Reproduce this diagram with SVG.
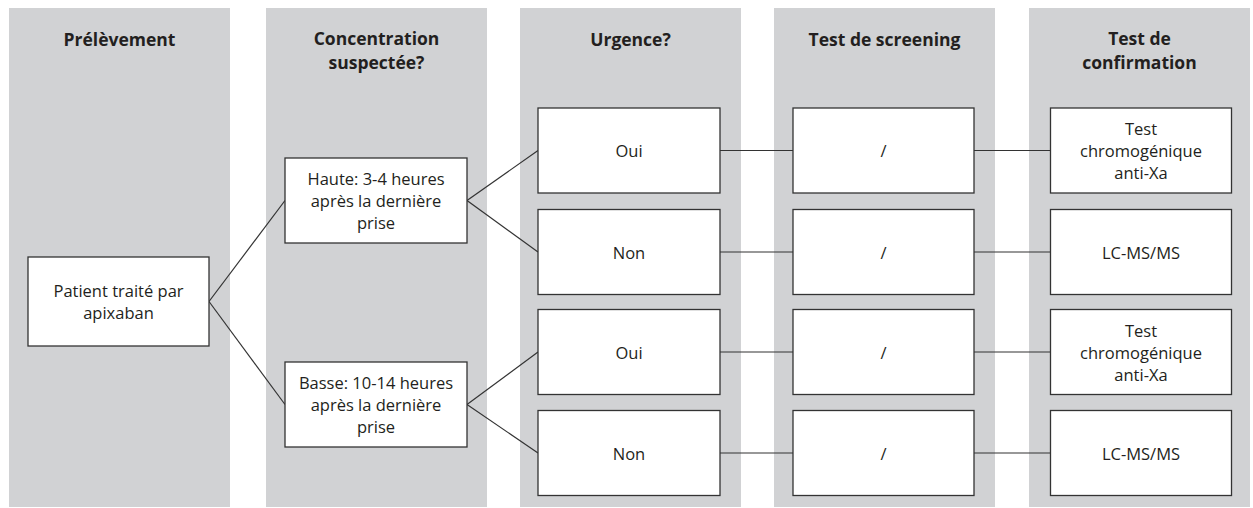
<svg xmlns="http://www.w3.org/2000/svg" width="1253" height="508" viewBox="0 0 1253 508">
  <style>
    .col { fill: #d1d2d4; }
    .box { fill: #ffffff; stroke: #333333; stroke-width: 1.3; }
    .hdr { font-family: "Open Sans", Lato, sans-serif; font-weight: bold; font-size: 17.5px; fill: #231f20; text-anchor: middle; }
    .txt { font-family: "Open Sans", Lato, sans-serif; font-size: 16.5px; fill: #231f20; text-anchor: middle; }
    .con { stroke: #333333; stroke-width: 1.2; fill: none; }
  </style>
  <rect width="1253" height="508" fill="#ffffff"/>
  <g id="columns">
    <rect class="col" x="9" y="8" width="221" height="499"/>
    <rect class="col" x="266" y="8" width="221" height="499"/>
    <rect class="col" x="520" y="8" width="221" height="499"/>
    <rect class="col" x="774" y="8" width="221" height="499"/>
    <rect class="col" x="1029" y="8" width="221" height="499"/>
  </g>
  <g id="headers">
    <text class="hdr" x="119.5" y="46">Prélèvement</text>
    <text class="hdr" x="376.5" y="45">Concentration</text>
    <text class="hdr" x="376.5" y="69">suspectée?</text>
    <text class="hdr" x="630.5" y="46">Urgence?</text>
    <text class="hdr" x="884.5" y="46">Test de screening</text>
    <text class="hdr" x="1139.5" y="45">Test de</text>
    <text class="hdr" x="1139.5" y="69">confirmation</text>
  </g>
  <g id="connectors">
    <line class="con" x1="209" y1="301.5" x2="285" y2="200.5"/>
    <line class="con" x1="209" y1="301.5" x2="285" y2="404.5"/>
    <line class="con" x1="467" y1="200.5" x2="538" y2="150.5"/>
    <line class="con" x1="467" y1="200.5" x2="538" y2="252"/>
    <line class="con" x1="467" y1="404.5" x2="538" y2="352"/>
    <line class="con" x1="467" y1="404.5" x2="538" y2="453"/>
    <line class="con" x1="720" y1="150.5" x2="793" y2="150.5"/>
    <line class="con" x1="720" y1="252" x2="793" y2="252"/>
    <line class="con" x1="720" y1="352" x2="793" y2="352"/>
    <line class="con" x1="720" y1="453" x2="793" y2="453"/>
    <line class="con" x1="974" y1="150.5" x2="1050.5" y2="150.5"/>
    <line class="con" x1="974" y1="252" x2="1050.5" y2="252"/>
    <line class="con" x1="974" y1="352" x2="1050.5" y2="352"/>
    <line class="con" x1="974" y1="453" x2="1050.5" y2="453"/>
  </g>
  <g id="patient">
    <rect class="box" x="28" y="257" width="181" height="89"/>
    <text class="txt" x="118.5" y="296.5">Patient traité par</text>
    <text class="txt" x="118.5" y="318.5">apixaban</text>
  </g>
  <g id="haute">
    <rect class="box" x="285" y="158" width="182" height="85"/>
    <text class="txt" x="376" y="185">Haute: 3-4 heures</text>
    <text class="txt" x="376" y="207">après la dernière</text>
    <text class="txt" x="376" y="229">prise</text>
  </g>
  <g id="basse">
    <rect class="box" x="285" y="362" width="182" height="85"/>
    <text class="txt" x="376" y="389">Basse: 10-14 heures</text>
    <text class="txt" x="376" y="411">après la dernière</text>
    <text class="txt" x="376" y="433">prise</text>
  </g>
  <g id="oui1">
    <rect class="box" x="538" y="108" width="182" height="85"/>
    <text class="txt" x="629" y="157">Oui</text>
  </g>
  <g id="non1">
    <rect class="box" x="538" y="209.5" width="182" height="85"/>
    <text class="txt" x="629" y="258.5">Non</text>
  </g>
  <g id="oui2">
    <rect class="box" x="538" y="309.5" width="182" height="85"/>
    <text class="txt" x="629" y="358.5">Oui</text>
  </g>
  <g id="non2">
    <rect class="box" x="538" y="410.5" width="182" height="85"/>
    <text class="txt" x="629" y="459.5">Non</text>
  </g>
  <g id="screen1">
    <rect class="box" x="793" y="108" width="181" height="85"/>
    <text class="txt" x="883.5" y="157">/</text>
  </g>
  <g id="screen2">
    <rect class="box" x="793" y="209.5" width="181" height="85"/>
    <text class="txt" x="883.5" y="258.5">/</text>
  </g>
  <g id="screen3">
    <rect class="box" x="793" y="309.5" width="181" height="85"/>
    <text class="txt" x="883.5" y="358.5">/</text>
  </g>
  <g id="screen4">
    <rect class="box" x="793" y="410.5" width="181" height="85"/>
    <text class="txt" x="883.5" y="459.5">/</text>
  </g>
  <g id="confirm1">
    <rect class="box" x="1050.5" y="108" width="181" height="85"/>
    <text class="txt" x="1141" y="135">Test</text>
    <text class="txt" x="1141" y="157">chromogénique</text>
    <text class="txt" x="1141" y="179">anti-Xa</text>
  </g>
  <g id="confirm2">
    <rect class="box" x="1050.5" y="209.5" width="181" height="85"/>
    <text class="txt" x="1141" y="258.5">LC-MS/MS</text>
  </g>
  <g id="confirm3">
    <rect class="box" x="1050.5" y="309.5" width="181" height="85"/>
    <text class="txt" x="1141" y="336.5">Test</text>
    <text class="txt" x="1141" y="358.5">chromogénique</text>
    <text class="txt" x="1141" y="380.5">anti-Xa</text>
  </g>
  <g id="confirm4">
    <rect class="box" x="1050.5" y="410.5" width="181" height="85"/>
    <text class="txt" x="1141" y="459.5">LC-MS/MS</text>
  </g>
</svg>
